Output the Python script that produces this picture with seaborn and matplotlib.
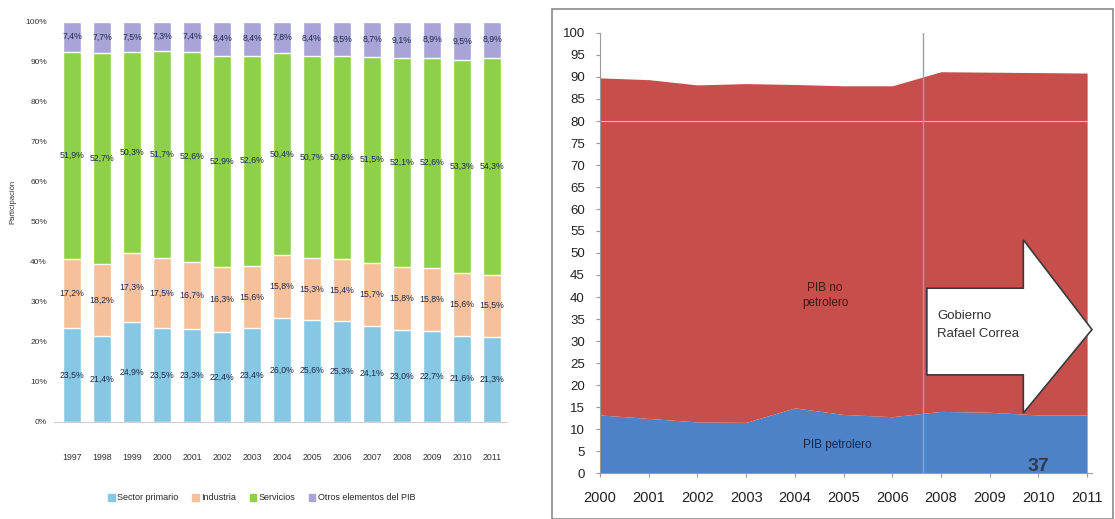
import matplotlib
matplotlib.use("Agg")
import matplotlib.pyplot as plt
from matplotlib.patches import Polygon, Rectangle
import numpy as np
import pandas as pd
import seaborn as sns

# ---- Composición del PIB por sector (%) ----
anios = ["1997", "1998", "1999", "2000", "2001", "2002", "2003", "2004",
         "2005", "2006", "2007", "2008", "2009", "2010", "2011"]
sector_primario = [23.5, 21.4, 24.9, 23.5, 23.3, 22.4, 23.4, 26.0, 25.6, 25.3, 24.1, 23.0, 22.7, 21.6, 21.3]
industria = [17.2, 18.2, 17.3, 17.5, 16.7, 16.3, 15.6, 15.8, 15.3, 15.4, 15.7, 15.8, 15.8, 15.6, 15.5]
servicios = [51.9, 52.7, 50.3, 51.7, 52.6, 52.9, 52.6, 50.4, 50.7, 50.8, 51.5, 52.1, 52.6, 53.3, 54.3]
otros = [7.4, 7.7, 7.5, 7.3, 7.4, 8.4, 8.4, 7.8, 8.4, 8.5, 8.7, 9.1, 8.9, 9.5, 8.9]
sectores = ["Sector primario", "Industria", "Servicios", "Otros elementos del PIB"]

# ---- PIB petrolero / no petrolero (% del total) ----
anios_pib = ["2000", "2001", "2002", "2003", "2004", "2005", "2006", "2008", "2009", "2010", "2011"]
pib_petrolero = [13.2, 12.4, 11.6, 11.5, 14.8, 13.3, 12.8, 14.0, 13.8, 13.2, 13.2]
pib_no_petrolero = [76.6, 77.0, 76.6, 77.0, 73.5, 74.7, 75.2, 77.2, 77.3, 77.8, 77.7]

sns.set_theme(style="white")
plt.rcParams["font.family"] = ["Liberation Sans", "DejaVu Sans"]

col_prim = "#86C8E4"
col_ind = "#F6C09A"
col_serv = "#8ED149"
col_otros = "#A9A4D8"
col_pet = "#4D82C6"
col_nopet = "#C64F4C"

W, H = 1115, 519
fig = plt.figure(figsize=(W / 100, H / 100), dpi=100)

# ================= Left: 100% stacked bars =================
ax1 = fig.add_axes([54 / W, 1 - 422 / H, (507 - 54) / W, 400 / H])
series = [sector_primario, industria, servicios, otros]
colors = [col_prim, col_ind, col_serv, col_otros]
cum = np.cumsum(np.array(series), axis=0)

# draw the cumulative totals from the top layer down so each segment shows
for k in range(3, -1, -1):
    tmp = pd.DataFrame({"anio": anios, "valor": cum[k]})
    sns.barplot(data=tmp, x="anio", y="valor", color=colors[k], width=0.6,
                saturation=1, ax=ax1, errorbar=None)

for i in range(len(anios)):
    base = 0.0
    for k, vals in enumerate(series):
        v = vals[i]
        ax1.text(i, base + v / 2, f"{v:.1f}%".replace(".", ","), ha="center",
                 va="center", fontsize=6.3, color="#1e2a4a")
        base += v

ax1.set_xlim(-0.6, 14.5)
ax1.set_ylim(0, 100)
ax1.set_yticks(range(0, 101, 10))
ax1.set_yticklabels([f"{t}%" for t in range(0, 101, 10)], fontsize=6, color="#333333")
ax1.set_xticks(range(len(anios)))
ax1.set_xticklabels(anios, fontsize=6.3, color="#333333")
ax1.tick_params(axis="y", length=0, pad=5)
ax1.tick_params(axis="x", length=0, pad=22)
ax1.set_xlabel("")
ax1.set_ylabel("Participación", fontsize=5.5, color="#333333")
ax1.yaxis.set_label_coords(-0.082, 0.55)
for s in ["top", "right", "left"]:
    ax1.spines[s].set_visible(False)
ax1.spines["bottom"].set_color("#cfcfcf")
ax1.spines["bottom"].set_linewidth(0.8)

handles = [Rectangle((0, 0), 1, 1, color=c) for c in colors]
fig.legend(handles, sectores, loc="center", bbox_to_anchor=(262 / W, 1 - 498 / H),
           ncol=4, frameon=False, fontsize=6.5, handlelength=0.7, handleheight=0.7,
           handletextpad=0.3, columnspacing=1.5)

# ================= Right: stacked area =================
ax2 = fig.add_axes([600 / W, 1 - 473 / H, (1092 - 600) / W, 440 / H])
x = np.arange(len(anios_pib))
ax2.stackplot(x, pib_petrolero, pib_no_petrolero, colors=[col_pet, col_nopet],
              linewidth=0)
ax2.axhline(80, color="white", lw=0.8, alpha=0.6)
ax2.set_xlim(0, 10.1)
ax2.set_ylim(0, 100)
ax2.set_yticks(range(0, 101, 5))
ax2.set_xticks(x)
ax2.set_xticklabels(anios_pib)
ax2.tick_params(axis="y", direction="out", length=3, width=0.8, color="#999999",
                pad=8, labelsize=9.5, labelcolor="#222222", left=True)
ax2.tick_params(axis="x", direction="out", length=3, width=0.8, color="#999999",
                pad=10, labelsize=10.5, labelcolor="#222222", bottom=True)
for s in ["top", "right"]:
    ax2.spines[s].set_visible(False)
for s in ["left", "bottom"]:
    ax2.spines[s].set_color("#9a9a9a")
    ax2.spines[s].set_linewidth(0.8)

# start of the Correa government
ax2.plot([6.63, 6.63], [0, 100], color="#a0a0a0", lw=1)

ax2.text(4.62, 40.3, "PIB no\npetrolero", ha="center", va="center", fontsize=8.5,
         color="#4a1414", linespacing=1.4)
ax2.text(4.87, 6.4, "PIB petrolero", ha="center", va="center", fontsize=8.5,
         color="#15264d")

arrow = Polygon([(6.71, 22.3), (8.69, 22.3), (8.69, 13.6), (10.1, 32.6),
                 (8.69, 53.0), (8.69, 42.0), (6.71, 42.0)], closed=True,
                facecolor="white", edgecolor="#3a3a3a", lw=1.2, clip_on=False,
                zorder=5)
ax2.add_patch(arrow)
ax2.text(6.92, 33.6, "Gobierno\nRafael Correa", ha="left", va="center",
         fontsize=9.5, color="#333333", linespacing=1.7, zorder=6)
ax2.text(9.0, 1.5, "37", ha="center", va="center", fontsize=14,
         fontweight="bold", color="#2f3a55", zorder=6)

# frame around the right panel
fig.patches.append(Rectangle((552 / W, 0), (1113 - 552) / W, (519 - 9) / H,
                             transform=fig.transFigure, fill=False,
                             edgecolor="#8a8a8a", lw=1.2))

fig.savefig("out.png", dpi=100)
